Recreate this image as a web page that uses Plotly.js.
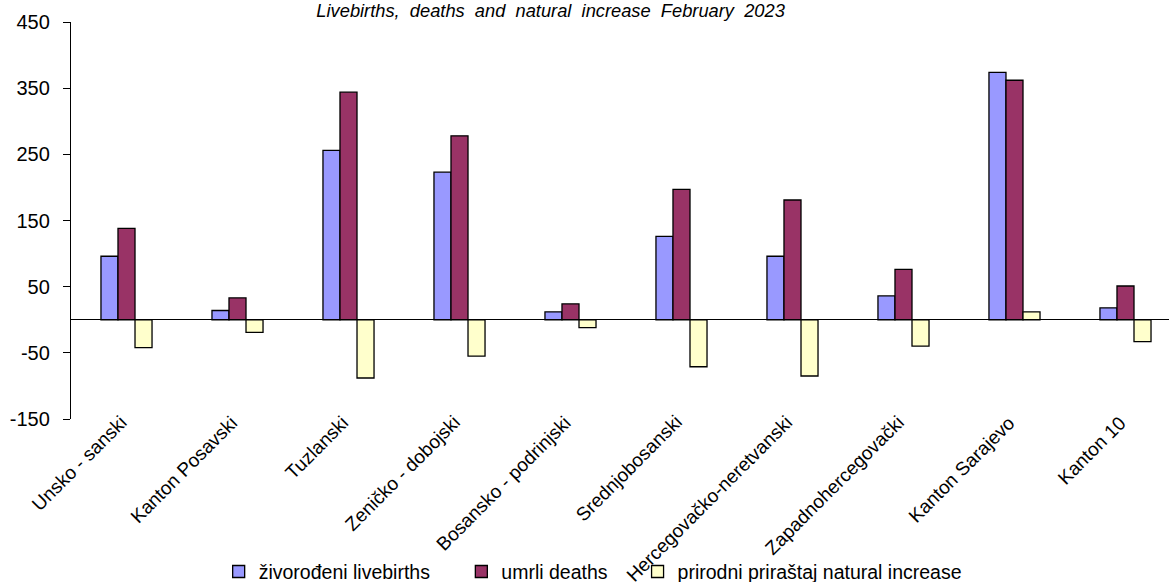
<!DOCTYPE html>
<html>
<head>
<meta charset="utf-8">
<script src="https://cdn.plot.ly/plotly-3.0.1.min.js"></script>
<style>html,body{margin:0;padding:0;background:#fff;}#chart{width:1169px;height:582px;}</style>
</head>
<body>
<div id="chart"></div>
<script>
const categories = ["Unsko - sanski", "Kanton Posavski", "Tuzlanski", "Zeničko - dobojski", "Bosansko - podrinjski", "Srednjobosanski", "Hercegovačko-neretvanski", "Zapadnohercegovački", "Kanton Sarajevo", "Kanton 10"];
const livebirths = [96, 14, 256, 223, 12, 126, 96, 36, 374, 18];
const deaths = [138, 33, 344, 278, 24, 197, 181, 76, 362, 51];
const naturalIncrease = [-42, -19, -88, -55, -12, -71, -85, -40, 12, -33];
const seriesNames = ["živorođeni livebirths", "umrli deaths", "prirodni priraštaj natural increase"];
const yTicks = [450, 350, 250, 150, 50, -50, -150];
const yMin = -150, yMax = 450;

const FONT = "'Liberation Sans', Arial, sans-serif";
const colors = ["#9999FF", "#993366", "#FFFFCC"];
const values = [livebirths, deaths, naturalIncrease];
const legendIds = ["legend", "legend2", "legend3"];

const traces = values.map((v, i) => ({
  type: "bar",
  x: categories,
  y: v,
  name: seriesNames[i],
  legend: legendIds[i],
  marker: {color: colors[i], line: {color: "#000", width: 1.3}},
  hoverinfo: "x+y+name"
}));

const legendBase = {
  orientation: "h", yanchor: "middle", xanchor: "left", y: -0.385,
  bgcolor: "rgba(0,0,0,0)", font: {family: FONT, size: 19.5, color: "#000"},
  itemwidth: 30, tracegroupgap: 0
};

// category labels as rotated annotations placed on the x scale
const labelAnnotations = categories.map(c => ({
  text: c, x: c, xref: "x", y: yMin, yref: "y",
  xanchor: "right", yanchor: "top", textangle: -45,
  showarrow: false, xshift: 7, yshift: 10,
  font: {family: FONT, size: 19, color: "#000"}
}));

const layout = {
  width: 1169, height: 582,
  margin: {l: 71, r: 0, t: 22, b: 163, autoexpand: false},
  paper_bgcolor: "#fff", plot_bgcolor: "#fff",
  font: {family: FONT, color: "#000"},
  title: {
    text: "<i>Livebirths,  deaths  and  natural  increase  February  2023</i>",
    font: {family: FONT, size: 18.3, color: "#000"},
    x: 0.471, xanchor: "center", y: 0.981, yanchor: "middle"
  },
  barmode: "group", bargap: 0.54, bargroupgap: 0,
  xaxis: {
    type: "category", range: [-0.5, 9.392],
    showticklabels: false,
    showline: false, ticks: "", showgrid: false, zeroline: false, automargin: false
  },
  yaxis: {
    range: [yMin, yMax], tickmode: "array", tickvals: yTicks, ticktext: yTicks.map(String),
    tickfont: {family: FONT, size: 20, color: "#000"},
    ticklabelstandoff: 9,
    showline: true, linecolor: "#000", linewidth: 1.3,
    ticks: "outside", ticklen: 7, tickwidth: 1.3, tickcolor: "#000",
    showgrid: false, zeroline: true, zerolinecolor: "#000", zerolinewidth: 1.3,
    automargin: false
  },
  annotations: labelAnnotations,
  legend: Object.assign({}, legendBase, {x: 0.1345}),
  legend2: Object.assign({}, legendBase, {x: 0.3555}),
  legend3: Object.assign({}, legendBase, {x: 0.516}),
  showlegend: true
};

Plotly.newPlot("chart", traces, layout, {displayModeBar: false});
</script>
</body>
</html>
